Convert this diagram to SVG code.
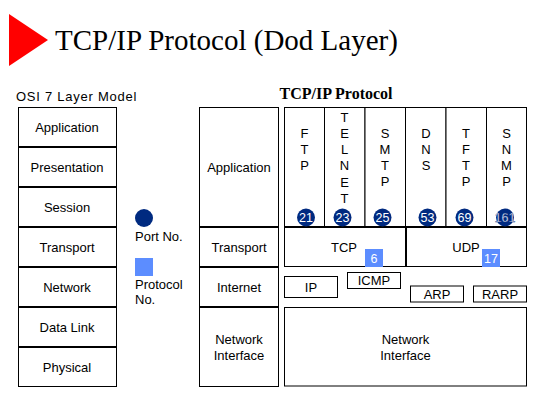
<svg xmlns="http://www.w3.org/2000/svg" width="540" height="400" viewBox="0 0 540 400">
<style>
  .box { fill: #ffffff; stroke: #000000; stroke-width: 1; }
  .t { font-family: "Liberation Sans", Arial, sans-serif; font-size: 13px; fill: #000000; text-anchor: middle; }
  .tl { font-family: "Liberation Sans", Arial, sans-serif; font-size: 13px; fill: #000000; }
  .v { font-family: "Liberation Sans", Arial, sans-serif; font-size: 13px; fill: #000000; text-anchor: middle; }
  .port { fill: #002A80; }
  .proto { fill: #5C8DFF; }
  .num { font-family: "Liberation Sans", Arial, sans-serif; font-size: 12.5px; fill: #ffffff; text-anchor: middle; }
</style>
<rect x="0" y="0" width="540" height="400" fill="#ffffff"/>

<g id="title">
  <polygon points="9,14 48,40 9,66" fill="#ff0000"/>
  <text x="55" y="50" font-family="'Liberation Serif', 'Times New Roman', serif" font-size="29px" fill="#000000">TCP/IP Protocol (Dod Layer)</text>
</g>

<g id="osi-heading">
  <text x="16" y="101" class="tl" font-size="13.5px" letter-spacing="0.75">OSI 7 Layer Model</text>
</g>
<g id="tcpip-heading">
  <text x="336" y="99" font-family="'Liberation Serif', 'Times New Roman', serif" font-size="16px" font-weight="bold" text-anchor="middle" fill="#000000">TCP/IP Protocol</text>
</g>

<g id="osi-application"><rect class="box" x="18.5" y="107.5" width="98" height="39"/><text class="t" x="67" y="132">Application</text></g>
<g id="osi-presentation"><rect class="box" x="18.5" y="147.5" width="98" height="39"/><text class="t" x="67" y="172">Presentation</text></g>
<g id="osi-session"><rect class="box" x="18.5" y="187.5" width="98" height="39"/><text class="t" x="67" y="212">Session</text></g>
<g id="osi-transport"><rect class="box" x="18.5" y="227.5" width="98" height="39"/><text class="t" x="67" y="252">Transport</text></g>
<g id="osi-network"><rect class="box" x="18.5" y="267.5" width="98" height="39"/><text class="t" x="67" y="292">Network</text></g>
<g id="osi-datalink"><rect class="box" x="18.5" y="307.5" width="98" height="39"/><text class="t" x="67" y="332">Data Link</text></g>
<g id="osi-physical"><rect class="box" x="18.5" y="347.5" width="98" height="39"/><text class="t" x="67" y="372">Physical</text></g>

<g id="legend-port">
  <circle class="port" cx="144" cy="218" r="9"/>
  <text class="tl" x="135" y="241">Port No.</text>
</g>
<g id="legend-protocol">
  <rect class="proto" x="135" y="258" width="18" height="18"/>
  <text class="tl" x="135" y="289">Protocol</text>
  <text class="tl" x="135" y="304">No.</text>
</g>

<g id="dod-application"><rect class="box" x="199.5" y="107.5" width="79" height="119"/><text class="t" x="239" y="172">Application</text></g>
<g id="dod-transport"><rect class="box" x="199.5" y="227.5" width="79" height="39"/><text class="t" x="239" y="252">Transport</text></g>
<g id="dod-internet"><rect class="box" x="199.5" y="267.5" width="79" height="39"/><text class="t" x="239" y="292">Internet</text></g>
<g id="dod-netif"><rect class="box" x="199.5" y="307.5" width="79" height="79"/><text class="t" x="239" y="344">Network</text><text class="t" x="239" y="360">Interface</text></g>

<g id="app-ftp">
  <rect class="box" x="284.5" y="107.5" width="40" height="119"/>
  <text class="v" x="304.5" y="138">F</text><text class="v" x="304.5" y="154">T</text><text class="v" x="304.5" y="170">P</text>
  <circle class="port" cx="306" cy="217.5" r="9"/><text class="num" x="306" y="222">21</text>
</g>
<g id="app-telnet">
  <rect class="box" x="324.5" y="107.5" width="40.5" height="119"/>
  <text class="v" x="344.5" y="122">T</text><text class="v" x="344.5" y="138">E</text><text class="v" x="344.5" y="154">L</text><text class="v" x="344.5" y="170">N</text><text class="v" x="344.5" y="187">E</text><text class="v" x="344.5" y="203">T</text>
  <circle class="port" cx="342.5" cy="217.5" r="9"/><text class="num" x="342.5" y="222">23</text>
</g>
<g id="app-smtp">
  <rect class="box" x="365" y="107.5" width="40.5" height="119"/>
  <text class="v" x="385" y="138">S</text><text class="v" x="385" y="154">M</text><text class="v" x="385" y="170">T</text><text class="v" x="385" y="186">P</text>
  <circle class="port" cx="382.5" cy="217.5" r="9"/><text class="num" x="382.5" y="222">25</text>
</g>
<g id="app-dns">
  <rect class="box" x="405.5" y="107.5" width="40.5" height="119"/>
  <text class="v" x="426" y="138">D</text><text class="v" x="426" y="154">N</text><text class="v" x="426" y="170">S</text>
  <circle class="port" cx="427.5" cy="217.5" r="9"/><text class="num" x="427.5" y="222">53</text>
</g>
<g id="app-tftp">
  <rect class="box" x="446" y="107.5" width="40.5" height="119"/>
  <text class="v" x="466" y="138">T</text><text class="v" x="466" y="154">F</text><text class="v" x="466" y="170">T</text><text class="v" x="466" y="186">P</text>
  <circle class="port" cx="464.5" cy="217.5" r="9"/><text class="num" x="464.5" y="222">69</text>
</g>
<g id="app-snmp">
  <rect class="box" x="486.5" y="107.5" width="40" height="119"/>
  <text class="v" x="506.5" y="138">S</text><text class="v" x="506.5" y="154">N</text><text class="v" x="506.5" y="170">M</text><text class="v" x="506.5" y="186">P</text>
  <circle class="port" cx="505" cy="217.5" r="9"/><text class="num" x="505" y="222" stroke="#002A80" stroke-width="0.3">161</text>
</g>

<g id="tcp">
  <rect class="box" x="284.5" y="227.5" width="121" height="39"/>
  <text class="t" x="344" y="252">TCP</text>
  <rect class="proto" x="365" y="249" width="18" height="18"/><text class="num" x="374" y="263">6</text>
</g>
<g id="udp">
  <rect class="box" x="406.5" y="227.5" width="120" height="39"/>
  <text class="t" x="466" y="252">UDP</text>
  <rect class="proto" x="482" y="249" width="18" height="18"/><text class="num" x="491" y="263">17</text>
</g>

<g id="ip"><rect class="box" x="284.5" y="276.5" width="53" height="21"/><text class="t" x="311" y="292">IP</text></g>
<g id="icmp"><rect class="box" x="347.5" y="272.5" width="53" height="16"/><text class="t" x="374" y="285">ICMP</text></g>
<g id="arp"><rect class="box" x="410.5" y="286" width="53" height="16"/><text class="t" x="437" y="299">ARP</text></g>
<g id="rarp"><rect class="box" x="473.5" y="286" width="53" height="16"/><text class="t" x="500" y="299">RARP</text></g>

<g id="netif"><rect class="box" x="284.5" y="307.5" width="242" height="78.5"/><text class="t" x="405.5" y="344">Network</text><text class="t" x="405.5" y="360">Interface</text></g>

<g id="connectors"></g>
</svg>
